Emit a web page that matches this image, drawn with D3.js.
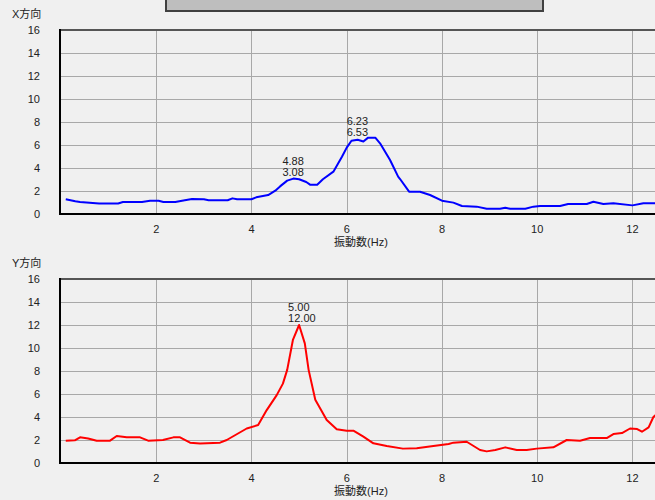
<!DOCTYPE html>
<html>
<head>
<meta charset="utf-8">
<script src="https://cdn.jsdelivr.net/npm/d3@7"></script>
<style>
    html, body { margin: 0; padding: 0; background: #f0f0f0; overflow: hidden; }
    svg { display: block; }
    text { font-family: "Liberation Sans", Arial, "Noto Sans CJK JP", sans-serif; font-size: 11px; fill: #222; }
</style>
</head>
<body>
<svg id="chart" width="655" height="500"></svg>
<script>
// tick values
var yTicks = [0, 2, 4, 6, 8, 10, 12, 14, 16];
var xTicks = [2, 4, 6, 8, 10, 12];

// X direction (blue)
var freqX = [0.1, 0.3, 0.4, 0.8, 1.2, 1.3, 1.7, 1.87, 2.05, 2.15, 2.4, 2.6, 2.75, 3.0, 3.1, 3.5, 3.6, 3.7, 4.0, 4.1,
    4.35, 4.5, 4.6, 4.75, 4.88, 5.0, 5.15, 5.23, 5.38, 5.5, 5.72, 5.9, 6.0, 6.1, 6.23, 6.35, 6.45, 6.6, 6.7, 6.91,
    7.08, 7.12, 7.31, 7.54, 7.75, 8.0, 8.24, 8.42, 8.73, 8.94, 9.22, 9.33, 9.43, 9.75, 9.92, 10.06, 10.48, 10.65,
    11.04, 11.18, 11.39, 11.6, 12.0, 12.23, 12.6];
var ampX = [1.28, 1.1, 1.04, 0.92, 0.92, 1.04, 1.04, 1.15, 1.15, 1.04, 1.04, 1.2, 1.3, 1.28, 1.2, 1.2, 1.36, 1.28, 1.28, 1.45,
    1.65, 2.03, 2.4, 2.9, 3.08, 3.02, 2.78, 2.55, 2.55, 3.02, 3.68, 4.98, 5.77, 6.37, 6.45, 6.3, 6.64, 6.64, 6.15, 4.7,
    3.25, 3.04, 1.94, 1.94, 1.65, 1.16, 0.99, 0.7, 0.64, 0.46, 0.46, 0.55, 0.46, 0.46, 0.64, 0.7, 0.7, 0.87,
    0.87, 1.07, 0.87, 0.93, 0.75, 0.93, 0.95];
var peakX = [4.88, 3.08, 6.23, 6.53];

// Y direction (red)
var freqY = [0.1, 0.29, 0.4, 0.57, 0.75, 1.03, 1.17, 1.38, 1.66, 1.83, 2.14, 2.36, 2.5, 2.71, 2.92, 3.34, 3.48, 3.9, 4.14,
    4.32, 4.53, 4.66, 4.75, 4.87, 5.0, 5.12, 5.2, 5.34, 5.58, 5.79, 6.0, 6.14, 6.35, 6.56, 6.84, 7.18, 7.47, 7.82,
    8.14, 8.24, 8.52, 8.8, 8.94, 9.12, 9.33, 9.57, 9.78, 9.99, 10.34, 10.62, 10.9, 11.11, 11.46, 11.6, 11.78, 11.95,
    12.1, 12.2, 12.34, 12.44, 12.6];
var ampY = [1.94, 1.97, 2.23, 2.13, 1.94, 1.94, 2.35, 2.23, 2.23, 1.94, 2.0, 2.23, 2.23, 1.77, 1.7, 1.77, 2.0, 3.0, 3.3,
    4.6, 5.9, 6.9, 8.1, 10.7, 12.0, 10.4, 8.1, 5.5, 3.74, 2.93, 2.81, 2.81, 2.29, 1.71, 1.48, 1.25, 1.28, 1.48,
    1.65, 1.77, 1.85, 1.13, 1.01, 1.13, 1.36, 1.13, 1.13, 1.25, 1.36, 2.0, 1.94, 2.17, 2.17, 2.52, 2.6, 3.0,
    2.95, 2.72, 3.1, 4.0, 4.6];
var peakY = [5.00, 12.00];

var svg = d3.select('#chart');

// the clipped widget at the very top
svg.append('rect')
    .attr('x', 166).attr('y', -3)
    .attr('width', 377).attr('height', 14)
    .attr('fill', '#bebebe')
    .attr('stroke', '#404040')
    .attr('stroke-width', 2);

var x = d3.scaleLinear().domain([0, 12.6]).range([61, 661]);

function drawPanel(top, title, freq, amp, color, peaks) {
    var y = d3.scaleLinear().domain([0, 16]).range([top + 184, top]);
    var g = svg.append('g');

    g.append('text').attr('x', 12).attr('y', top - 12).text(title);

    // horizontal grid
    g.selectAll('.hgrid').data(yTicks.slice(1)).enter().append('line')
        .attr('x1', 61).attr('x2', 661)
        .attr('y1', function(d) { return Math.round(y(d)) + 0.5; })
        .attr('y2', function(d) { return Math.round(y(d)) + 0.5; })
        .attr('stroke', '#a8a8a8');

    // vertical grid
    g.selectAll('.vgrid').data(xTicks).enter().append('line')
        .attr('x1', function(d) { return Math.round(x(d)) + 0.5; })
        .attr('x2', function(d) { return Math.round(x(d)) + 0.5; })
        .attr('y1', top).attr('y2', top + 184)
        .attr('stroke', '#a8a8a8');

    // top border
    g.append('line').attr('x1', 60).attr('x2', 661).attr('y1', top).attr('y2', top)
        .attr('stroke', '#555').attr('stroke-width', 2);

    // y labels
    g.selectAll('.ylab').data(yTicks).enter().append('text')
        .attr('x', 40).attr('y', function(d) { return y(d) + 4; })
        .attr('text-anchor', 'end')
        .text(function(d) { return d; });

    // x labels
    g.selectAll('.xlab').data(xTicks).enter().append('text')
        .attr('x', function(d) { return x(d); }).attr('y', top + 203)
        .attr('text-anchor', 'middle')
        .text(function(d) { return d; });

    g.append('text').attr('x', 361).attr('y', top + 216)
        .attr('text-anchor', 'middle').text('振動数(Hz)');

    var pts = freq.map(function(f, i) { return [f, amp[i]]; });
    var line = d3.line()
        .x(function(d) { return x(d[0]); })
        .y(function(d) { return y(d[1]); });

    g.append('path').datum(pts)
        .attr('d', line)
        .attr('fill', 'none')
        .attr('stroke', color)
        .attr('stroke-width', 2)
        .attr('stroke-linejoin', 'round');

    // axes (left, bottom)
    g.append('line').attr('x1', 60).attr('x2', 60).attr('y1', top - 1).attr('y2', top + 185)
        .attr('stroke', '#000').attr('stroke-width', 2);
    g.append('line').attr('x1', 59).attr('x2', 661).attr('y1', top + 184).attr('y2', top + 184)
        .attr('stroke', '#000').attr('stroke-width', 2);

    // peak labels
    for (var i = 0; i < peaks.length; i += 2) {
        var px = x(peaks[i]) - 11, py = y(peaks[i + 1]) - 3;
        g.append('text').attr('x', px).attr('y', py - 11).text(peaks[i].toFixed(2));
        g.append('text').attr('x', px).attr('y', py).text(peaks[i + 1].toFixed(2));
    }
}

drawPanel(30, 'X方向', freqX, ampX, '#0000ff', peakX);
drawPanel(279, 'Y方向', freqY, ampY, '#ff0000', peakY);
</script>
</body>
</html>
